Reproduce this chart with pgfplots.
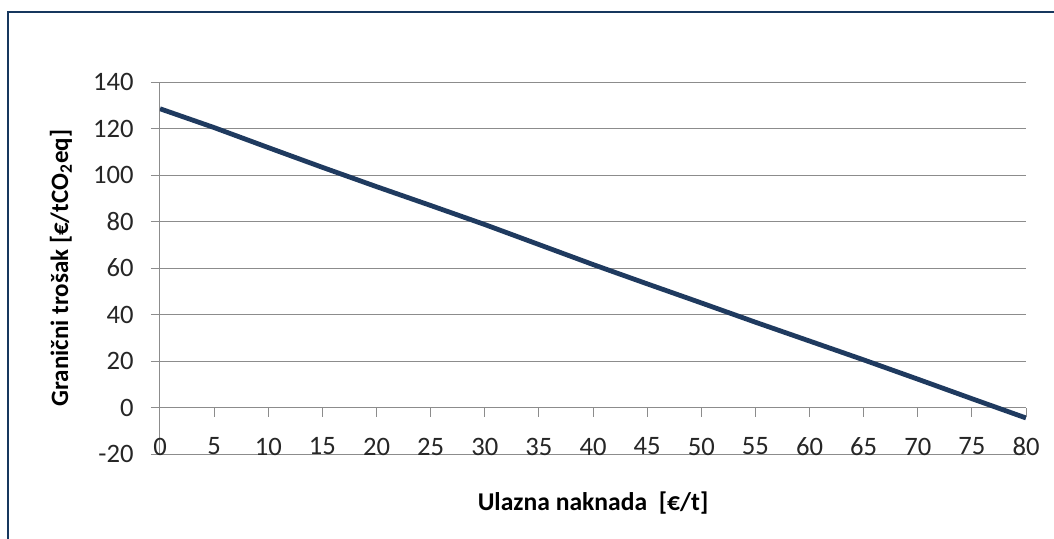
\documentclass[border=0pt]{standalone}
\usepackage{fontspec}
\setmainfont{Carlito}
\usepackage{pgfplots}
\pgfplotsset{compat=1.18}
\definecolor{navy}{HTML}{1F3A5F}
\definecolor{framenavy}{HTML}{17375E}
\definecolor{gridgray}{HTML}{8C8C8C}
\begin{document}
\begin{tikzpicture}
\begin{axis}[
  name=ax, at={(0,0)}, anchor=south west,
  scale only axis, width=433pt, height=186pt,
  xmin=0, xmax=80, ymin=-20, ymax=140,
  xtick={0,5,...,80}, ytick={-20,0,...,140},
  axis x line=middle, axis y line=left,
  hide obscured x ticks=false,
  axis line style={-, draw=gridgray, line width=0.5pt},
  ymajorgrids, grid style={draw=gridgray, line width=0.5pt},
  tick style={draw=gridgray, line width=0.5pt},
  tick align=outside, major tick length=4.5pt,
  tick label style={font=\fontsize{13.3}{15}\selectfont, text=black!85},
  /pgf/number format/assume math mode=true,
  xticklabel style={anchor=center, yshift=-15pt},
  yticklabel style={anchor=east, inner sep=0pt, xshift=-8.5pt},
  xlabel={Ulazna naknada\ \ [€/t]},
  ylabel={Granični trošak [€/tCO\textsubscript{2}eq]},
  every axis x label/.style={at={(rel axis cs:0.5,0)}, anchor=center,
    yshift=-24.5pt, font=\bfseries\fontsize{12.8}{15}\selectfont},
  every axis y label/.style={at={(rel axis cs:0,0.5)}, anchor=center,
    xshift=-49.5pt, rotate=90, font=\bfseries\fontsize{12.5}{15}\selectfont},
]
\addplot[navy, line width=2.4pt] coordinates {
  (0,128.5) (5,120.4) (10,111.8) (15,103.3) (20,95.0) (25,86.9)
  (30,78.7) (35,70.1) (40,61.5) (45,53.2) (50,45.0) (55,36.7)
  (60,28.6) (65,20.5) (70,12.2) (75,3.8) (80,-4.5)
};
\end{axis}
\path (ax.south west) ++(-76pt,-60pt) coordinate (fl);
\path (ax.south west) ++(-76pt,221pt) coordinate (ftl);
\path (ax.south west) ++(470pt,221pt) coordinate (ftr);
\draw[framenavy, line width=1.1pt] (fl) -- (ftl) -- (ftr);
\pgfresetboundingbox
\path[use as bounding box] (ax.south west) ++(-80pt,-42pt) rectangle ++(527pt,269pt);
\end{tikzpicture}
\end{document}
